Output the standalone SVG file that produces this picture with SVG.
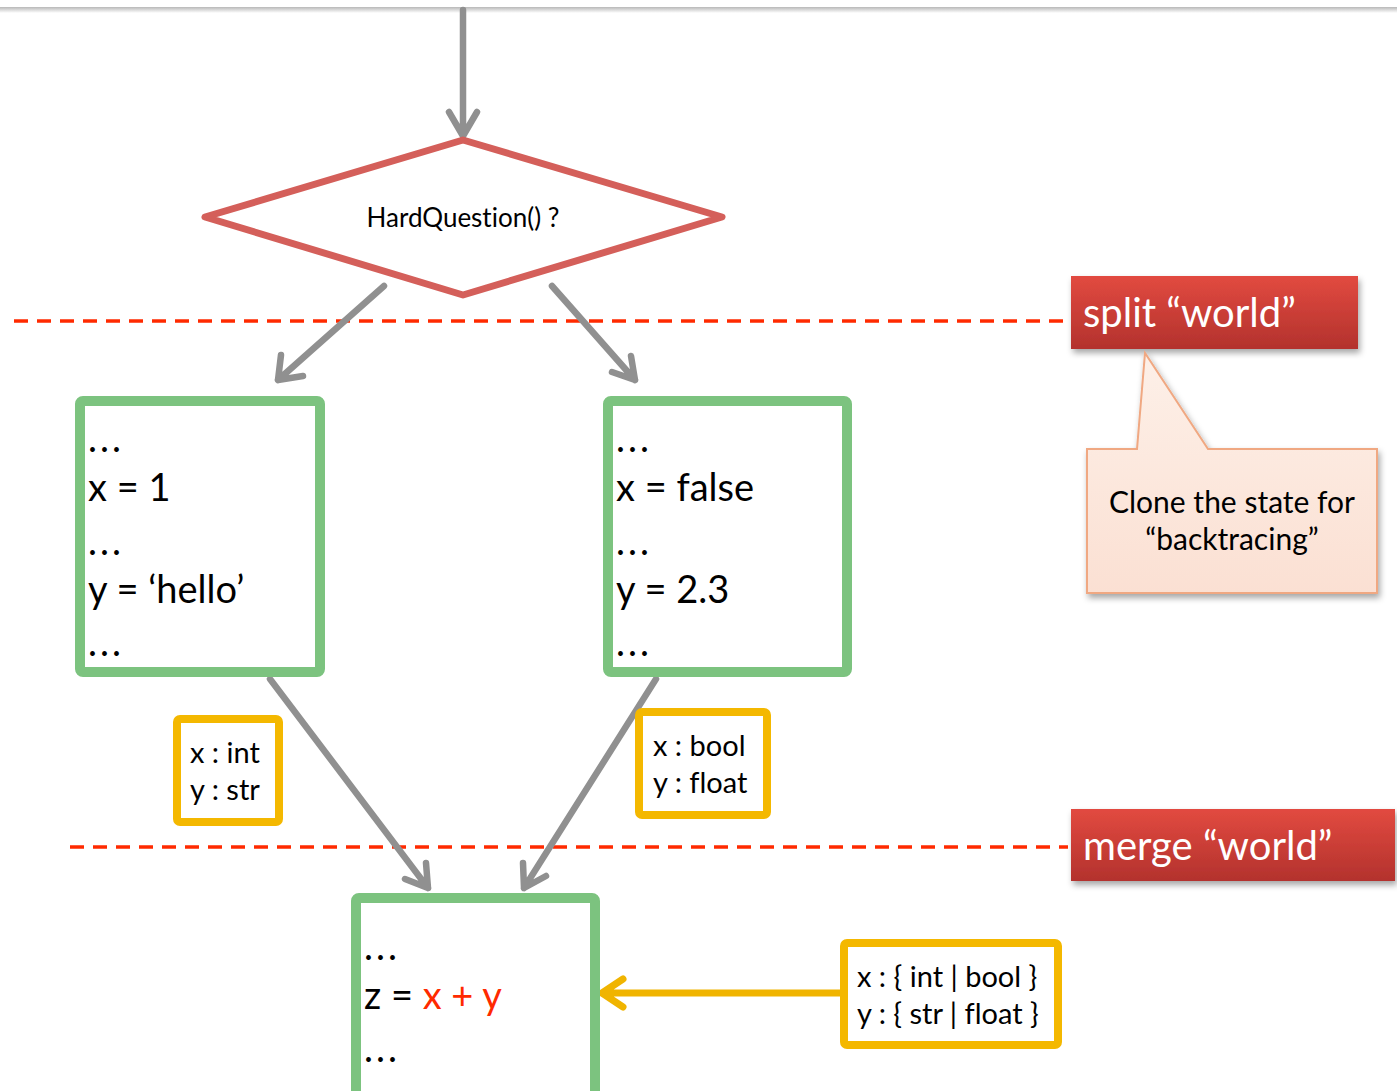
<svg xmlns="http://www.w3.org/2000/svg" width="1397" height="1091" viewBox="0 0 1397 1091">
  <defs>
    <style>
      text { font-family: Lato, "Open Sans", "Noto Sans", sans-serif; fill: #000; font-variant-ligatures: none; }
      .flow { fill: none; stroke: #909090; stroke-width: 6.5; stroke-linecap: round; stroke-linejoin: round; }
      .state { fill: #fff; stroke: #7cc37f; stroke-width: 10; }
      .types { fill: #fff; stroke: #f4b800; stroke-width: 8; }
      .divider { fill: none; stroke: #ff2a00; stroke-width: 3.5; stroke-dasharray: 14 9; }
      .code { font-size: 38px; }
      .dots { font-size: 38px; letter-spacing: 3px; }
      .tlabel { font-size: 29px; }
      .banner { font-size: 40px; fill: #fff; }
    </style>
    <linearGradient id="bannerFill" x1="0" y1="0" x2="0" y2="1">
      <stop offset="0" stop-color="#e24a40"/>
      <stop offset="1" stop-color="#b3322d"/>
    </linearGradient>
    <linearGradient id="noteFill" x1="0" y1="0" x2="0" y2="1">
      <stop offset="0" stop-color="#fdf0e8"/>
      <stop offset="1" stop-color="#fbe0d3"/>
    </linearGradient>
    <linearGradient id="topRule" x1="0" y1="0" x2="0" y2="1">
      <stop offset="0" stop-color="#b8b8b8"/>
      <stop offset="1" stop-color="#ffffff"/>
    </linearGradient>
    <filter id="shadow" x="-10%" y="-20%" width="130%" height="160%">
      <feDropShadow dx="2" dy="4" stdDeviation="3" flood-color="#000" flood-opacity="0.35"/>
    </filter>
  </defs>

  <rect width="1397" height="1091" fill="#fff"/>
  <!-- header rule -->
  <rect x="0" y="7" width="1397" height="6" fill="url(#topRule)"/>

  <!-- split / merge dividers -->
  <line class="divider" x1="14" y1="321" x2="1068" y2="321"/>
  <line class="divider" x1="70" y1="847" x2="1068" y2="847"/>

  <g id="connectors">
    <path class="flow" d="M463 10 V136 M449 112 L463 136 L477 112"/>
    <path class="flow" d="M384 286 L278 380 M281 355 L278 380 L303 376"/>
    <path class="flow" d="M552 286 L635 380 M631 356 L635 380 L612 372"/>
    <path class="flow" d="M270 679 L428 888 M426 863 L428 888 L405 879"/>
    <path class="flow" d="M656 679 L524 888 M523 863 L524 888 L546 876"/>
    <path d="M840 993 H602 M623 979 L602 993 L623 1007" fill="none" stroke="#f0b400" stroke-width="7" stroke-linecap="round" stroke-linejoin="round"/>
  </g>

  <g id="decision">
    <polygon points="205,217 463,140 722,217 463,295" fill="#fff" stroke="#d45f5a" stroke-width="7" stroke-linejoin="round"/>
    <text x="463" y="227" font-size="26" text-anchor="middle">HardQuestion() ?</text>
  </g>

  <g id="branch-true">
    <rect class="state" x="80" y="401" width="240" height="271" rx="3"/>
    <text class="dots" x="88" y="452">...</text>
    <text class="code" x="88" y="501">x = 1</text>
    <text class="dots" x="88" y="555">...</text>
    <text class="code" x="88" y="603">y = ‘hello’</text>
    <text class="dots" x="88" y="656">...</text>
  </g>

  <g id="branch-false">
    <rect class="state" x="608" y="401" width="239" height="271" rx="3"/>
    <text class="dots" x="616" y="452">...</text>
    <text class="code" x="616" y="501">x = false</text>
    <text class="dots" x="616" y="555">...</text>
    <text class="code" x="616" y="603">y = 2.3</text>
    <text class="dots" x="616" y="656">...</text>
  </g>

  <g id="types-true">
    <rect class="types" x="177" y="719" width="102" height="103" rx="3"/>
    <text class="tlabel" x="190" y="763">x : int</text>
    <text class="tlabel" x="190" y="800">y : str</text>
  </g>

  <g id="types-false">
    <rect class="types" x="639" y="712" width="128" height="103" rx="3"/>
    <text class="tlabel" x="653" y="756">x : bool</text>
    <text class="tlabel" x="653" y="793">y : float</text>
  </g>

  <g id="merged">
    <rect class="state" x="356" y="898" width="239" height="210" rx="3"/>
    <text class="dots" x="364" y="960">...</text>
    <text class="code" x="364" y="1009">z = <tspan fill="#ff2a00">x + y</tspan></text>
    <text class="dots" x="364" y="1062">...</text>
  </g>

  <g id="types-merged">
    <rect class="types" x="844" y="943" width="214" height="102" rx="3"/>
    <text class="tlabel" x="857" y="987">x : { int | bool }</text>
    <text class="tlabel" x="857" y="1024">y : { str | float }</text>
  </g>

  <g id="split-label">
    <rect x="1071" y="276" width="287" height="73" fill="url(#bannerFill)" filter="url(#shadow)"/>
    <text class="banner" x="1083" y="327">split “world”</text>
  </g>

  <g id="merge-label">
    <rect x="1071" y="809" width="324" height="72" fill="url(#bannerFill)" filter="url(#shadow)"/>
    <text class="banner" x="1083" y="860">merge “world”</text>
  </g>

  <g id="note">
    <path d="M1087 449 H1137 L1145 353 L1208 449 H1377 V593 H1087 Z" fill="url(#noteFill)" stroke="#f0a882" stroke-width="2" filter="url(#shadow)"/>
    <text x="1232" y="513" font-size="30" text-anchor="middle">Clone the state for</text>
    <text x="1232" y="550" font-size="30" text-anchor="middle">“backtracing”</text>
  </g>
</svg>
